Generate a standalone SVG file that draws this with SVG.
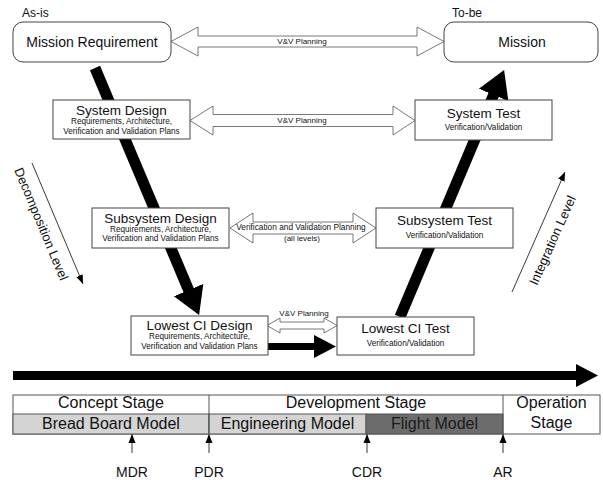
<svg xmlns="http://www.w3.org/2000/svg" width="603" height="480" viewBox="0 0 603 480">
<style>
text{font-family:"Liberation Sans",Arial,sans-serif;fill:#111}
.box{fill:#fff;stroke:#444;stroke-width:1}
.t{font-size:13.5px;text-anchor:middle}
.s{font-size:8.2px;text-anchor:middle}
.big{font-size:14px;text-anchor:middle}
.tag{font-size:12px}
.vv{fill:#fff;stroke:#555;stroke-width:0.8}
.vvt{font-size:8px;text-anchor:middle}
.thin{stroke:#222;stroke-width:0.9;fill:none}
.stg{font-size:16px;text-anchor:middle}
.ms{font-size:14px;text-anchor:middle}
.cell{stroke:#555;stroke-width:1}
</style>
<defs>
<marker id="vHead" markerUnits="userSpaceOnUse" viewBox="0 -17 28 34" markerWidth="28" markerHeight="34" refX="1" refY="0" orient="auto"><path d="M0,-16 L27,0 L0,16 Z" fill="#000"/></marker>
<marker id="hHead" markerUnits="userSpaceOnUse" viewBox="0 -12 23 24" markerWidth="23" markerHeight="24" refX="1" refY="0" orient="auto"><path d="M0,-11.5 L22,0 L0,11.5 Z" fill="#000"/></marker>
<marker id="sHead" markerUnits="userSpaceOnUse" viewBox="0 -4 9 8" markerWidth="9" markerHeight="8" refX="9" refY="0" orient="auto"><path d="M0,-3.5 L9,0 L0,3.5 Z" fill="#000"/></marker>
</defs>

<g id="connectors">
  <line x1="95" y1="68" x2="189" y2="291" stroke="#000" stroke-width="11" marker-end="url(#vHead)"/>
  <line x1="400" y1="317" x2="494" y2="94" stroke="#000" stroke-width="11" marker-end="url(#vHead)"/>
  <line x1="268" y1="346.5" x2="315" y2="346.5" stroke="#000" stroke-width="7" marker-end="url(#hHead)"/>
  <line x1="13" y1="375.5" x2="577" y2="375.5" stroke="#000" stroke-width="9" marker-end="url(#hHead)"/>

  <path class="vv" d="M171,41.5 L198,27 L198,36 L417,36 L417,27 L444,41.5 L417,56 L417,47 L198,47 L198,56 Z"/>
  <text class="vvt" x="302" y="44">V&amp;V Planning</text>
  <path class="vv" d="M190,120.5 L213,106 L213,114.5 L393,114.5 L393,106 L415,120.5 L393,135 L393,126.5 L213,126.5 L213,135 Z"/>
  <text class="vvt" x="302" y="123">V&amp;V Planning</text>
  <path class="vv" d="M230,228 L253,213 L253,222 L353,222 L353,213 L376,228 L353,243 L353,234 L253,234 L253,243 Z"/>
  <text class="vvt" x="301" y="229.5" style="font-size:8.3px">Verification and Validation Planning</text>
  <text class="vvt" x="302" y="241">(all levels)</text>
  <path class="vv" d="M267,325.5 L280,318 L280,322 L324,322 L324,318 L337,325.5 L324,333 L324,329 L280,329 L280,333 Z"/>
  <text class="vvt" x="304" y="316">V&amp;V Planning</text>

  <line class="thin" x1="32" y1="163" x2="83" y2="284" marker-end="url(#sHead)"/>
  <text style="font-size:13px" transform="translate(14,170) rotate(67.4)">Decomposition Level</text>
  <line class="thin" x1="512" y1="292" x2="565" y2="172" marker-end="url(#sHead)"/>
  <text style="font-size:13px" transform="translate(537,286) rotate(-66)">Integration Level</text>

  <line class="thin" x1="132" y1="453" x2="132" y2="434" marker-end="url(#sHead)"/>
  <line class="thin" x1="209" y1="453" x2="209" y2="434" marker-end="url(#sHead)"/>
  <line class="thin" x1="367" y1="453" x2="367" y2="434" marker-end="url(#sHead)"/>
  <line class="thin" x1="503" y1="453" x2="503" y2="434" marker-end="url(#sHead)"/>
</g>

<g id="mission-requirement">
  <text class="tag" x="22" y="17">As-is</text>
  <rect class="box" x="13" y="22" width="158" height="40" rx="10"/>
  <text class="big" x="92" y="46.5">Mission Requirement</text>
</g>
<g id="mission">
  <text class="tag" x="452" y="17">To-be</text>
  <rect class="box" x="444" y="22" width="154" height="40" rx="10"/>
  <text class="big" x="522" y="46.5">Mission</text>
</g>
<g id="system-design">
  <rect class="box" x="53" y="100" width="137" height="39"/>
  <text class="t" x="121.5" y="114.5">System Design</text>
  <text class="s" x="121.5" y="124">Requirements, Architecture,</text>
  <text class="s" x="121.5" y="133.5">Verification and Validation Plans</text>
</g>
<g id="system-test">
  <rect class="box" x="415" y="100" width="137" height="40"/>
  <text class="t" x="483.5" y="118">System Test</text>
  <text class="s" x="483.5" y="129.5">Verification/Validation</text>
</g>
<g id="subsystem-design">
  <rect class="box" x="92" y="208" width="137" height="40"/>
  <text class="t" x="160.5" y="222.5">Subsystem Design</text>
  <text class="s" x="160.5" y="231.5">Requirements, Architecture,</text>
  <text class="s" x="160.5" y="241">Verification and Validation Plans</text>
</g>
<g id="subsystem-test">
  <rect class="box" x="376" y="208" width="137" height="40"/>
  <text class="t" x="444.5" y="225">Subsystem Test</text>
  <text class="s" x="444.5" y="237.5">Verification/Validation</text>
</g>
<g id="lowest-ci-design">
  <rect class="box" x="131" y="316" width="137" height="39"/>
  <text class="t" x="199.5" y="329.5">Lowest CI Design</text>
  <text class="s" x="199.5" y="339">Requirements, Architecture,</text>
  <text class="s" x="199.5" y="348.5">Verification and Validation Plans</text>
</g>
<g id="lowest-ci-test">
  <rect class="box" x="337" y="317" width="137" height="38"/>
  <text class="t" x="405.5" y="333">Lowest CI Test</text>
  <text class="s" x="405.5" y="346">Verification/Validation</text>
</g>

<g id="stages">
  <rect x="13" y="395" width="587" height="39" fill="#fff" class="cell"/>
  <rect x="13" y="414" width="196" height="20" fill="#d4d4d4" class="cell"/>
  <rect x="209" y="414" width="157" height="20" fill="#d4d4d4" class="cell"/>
  <rect x="366" y="414" width="137" height="20" fill="#6c6c6c" class="cell"/>
  <line x1="209" y1="395" x2="209" y2="434" class="cell"/>
  <line x1="503" y1="395" x2="503" y2="434" class="cell"/>
  <text class="stg" x="111" y="408">Concept Stage</text>
  <text class="stg" x="111" y="429">Bread Board Model</text>
  <text class="stg" x="356" y="408">Development Stage</text>
  <text class="stg" x="287.5" y="429">Engineering Model</text>
  <text class="stg" x="434.5" y="429" style="fill:#1a1a1a">Flight Model</text>
  <text class="stg" x="551.5" y="408">Operation</text>
  <text class="stg" x="551.5" y="427.5">Stage</text>
</g>

<g id="milestones">
  <text class="ms" x="132" y="476.5">MDR</text>
  <text class="ms" x="209" y="476.5">PDR</text>
  <text class="ms" x="367" y="476.5">CDR</text>
  <text class="ms" x="503" y="476.5">AR</text>
</g>
</svg>
